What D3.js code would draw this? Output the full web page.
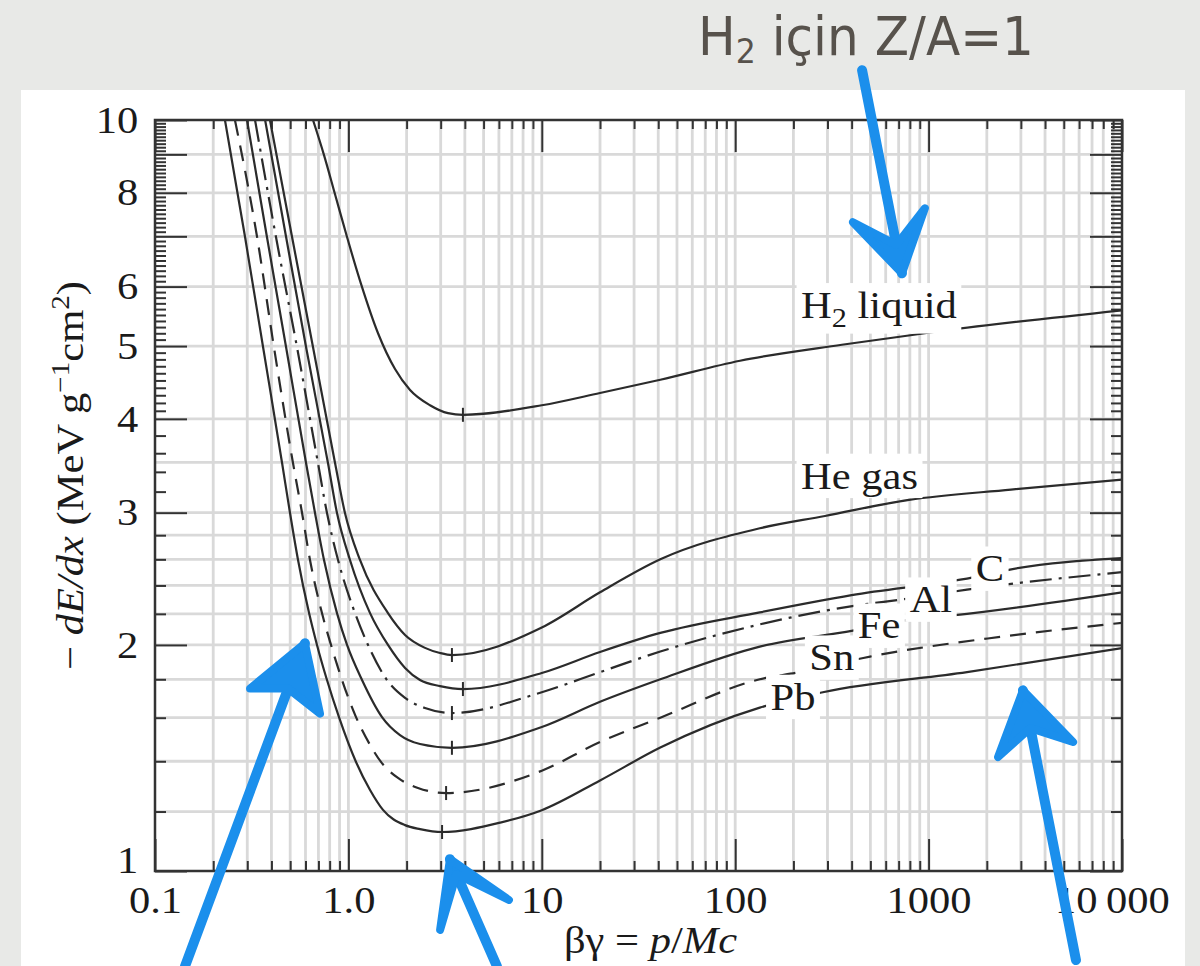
<!DOCTYPE html>
<html>
<head>
<meta charset="utf-8">
<script src="https://cdn.jsdelivr.net/npm/d3@7"></script>
<style>
    body { margin: 0; background: #e8e9e7; }
    svg { display: block; }
</style>
</head>
<body>
<div id="chart"></div>
<script>
// [βγ, -dE/dx] pairs
const h2Liquid = [[0.656, 10], [0.748, 8.98], [0.852, 7.97], [0.983, 6.99], [1.162, 6.05], [1.423, 5.20], [1.742, 4.66], [2.083, 4.37], [2.642, 4.17], [3.273, 4.07], [3.914, 4.05], [10, 4.17], [20, 4.33], [41, 4.51], [106, 4.78], [356, 5.02], [1186, 5.24], [10000, 5.58]]
const heGas = [[0.393, 10], [0.511, 6.99], [0.656, 4.986], [0.853, 3.494], [0.960, 2.997], [1.148, 2.595], [1.602, 2.205], [1.963, 2.062], [2.489, 1.982], [2.977, 1.951], [3.434, 1.939], [10, 2.11], [20, 2.35], [41, 2.60], [134, 2.86], [291, 2.97], [792, 3.12], [2667, 3.22], [10000, 3.32]]
const carbon = [[0.371, 10], [0.476, 6.99], [0.604, 4.986], [0.784, 3.494], [0.873, 2.997], [1.019, 2.595], [1.294, 2.205], [1.602, 2.0], [1.963, 1.864], [2.346, 1.796], [2.977, 1.763], [3.914, 1.747], [10, 1.835], [20, 1.957], [41, 2.075], [134, 2.21], [400, 2.33], [1698, 2.46], [2636, 2.52], [10000, 2.61]]
const aluminium = [[0.329, 10], [0.422, 6.99], [0.542, 4.986], [0.696, 3.494], [0.775, 2.997], [0.884, 2.595], [1.082, 2.205], [1.263, 2.0], [1.583, 1.796], [1.963, 1.700], [2.489, 1.648], [3.434, 1.623], [10, 1.73], [20, 1.84], [41, 1.96], [134, 2.13], [436, 2.26], [738, 2.30], [1580, 2.37], [10000, 2.50]]
const iron = [[0.299, 10], [0.379, 6.99], [0.476, 4.986], [0.604, 3.494], [0.672, 2.997], [0.748, 2.595], [0.873, 2.205], [0.984, 2.0], [1.176, 1.796], [1.492, 1.603], [1.848, 1.517], [2.346, 1.476], [3.434, 1.459], [10, 1.555], [20, 1.68], [41, 1.80], [134, 1.99], [406, 2.09], [782, 2.16], [1337, 2.19], [10000, 2.35]]
const tin = [[0.259, 10], [0.337, 6.99], [0.412, 4.986], [0.517, 3.494], [0.576, 2.997], [0.633, 2.595], [0.730, 2.205], [0.813, 2.0], [0.927, 1.796], [1.095, 1.603], [1.294, 1.472], [1.474, 1.397], [1.805, 1.330], [2.290, 1.290], [3.197, 1.270], [10, 1.36], [20, 1.485], [41, 1.60], [134, 1.80], [216, 1.84], [498, 1.93], [2340, 2.05], [10000, 2.14]]
const lead = [[0.230, 10], [0.292, 6.99], [0.362, 4.986], [0.454, 3.494], [0.499, 2.997], [0.549, 2.595], [0.626, 2.205], [0.688, 2.0], [0.775, 1.796], [0.894, 1.603], [1.095, 1.397], [1.294, 1.282], [1.510, 1.206], [1.963, 1.151], [2.346, 1.137], [3.049, 1.127], [6.1, 1.16], [10, 1.205], [20, 1.32], [41, 1.46], [134, 1.65], [284, 1.73], [1580, 1.84], [10000, 1.98]]

// minimum-ionization markers, same order as the curves
const minima = [[3.91, 4.05], [3.43, 1.939], [3.91, 1.747], [3.43, 1.623], [3.43, 1.459], [3.2, 1.27], [3.05, 1.127]]

const curveDashes = ["none", "none", "none", "22,7,3,7", "none", "16,10", "none"]

const labelNames = ["H2 liquid", "He gas", "C", "Al", "Fe", "Sn", "Pb"]
const labelBg = [219, 219, 2075, 1028, 555, 316, 199]
const labelDedx = [5.45, 3.23, 2.43, 2.21, 2.04, 1.85, 1.64]
const labelAnchor = ["start", "start", "middle", "middle", "middle", "middle", "middle"]

const xLabelValues = [0.1, 1, 10, 100, 1000, 10000]
const xLabels = ["0.1", "1.0", "10", "100", "1000", "10\u2009000"]
const yLabelValues = [1, 2, 3, 4, 5, 6, 8, 10]
const yGridValues = [1.2, 1.4, 1.6, 1.8, 2, 2.2, 2.4, 2.6, 2.8, 3, 3.5, 4, 5, 6, 7, 8, 9]

// hand-drawn blue arrows (tail, tip, barbs) in data units
const arrowTails = [[453, 11.65], [0.143, 0.747], [5.86, 0.747], [5780, 0.761]]
const arrowTips = [[728, 6.25], [0.596, 2.01], [3.35, 1.037], [3076, 1.74]]
const arrowLeftBarbs = [[406, 7.31], [0.31, 1.75], [2.98, 0.835], [2285, 1.418]]
const arrowRightBarbs = [[957, 7.63], [0.713, 1.62], [6.76, 0.915], [5585, 1.485]]

const margin = { top: 120, right: 78, bottom: 95, left: 155 },
    width = 1200 - margin.left - margin.right,
    height = 966 - margin.top - margin.bottom;

const serif = "Liberation Serif, Times New Roman, serif"

const root = d3.select("#chart")
    .append("svg")
    .attr("width", 1200)
    .attr("height", 966)

root.append("rect")
    .attr("width", 1200)
    .attr("height", 966)
    .attr("fill", "#e8e9e7")

root.append("rect")
    .attr("x", 21)
    .attr("y", 90)
    .attr("width", 1164)
    .attr("height", 876)
    .attr("fill", "#ffffff")

const svg = root.append("g")
    .attr("transform", `translate(${margin.left},${margin.top})`);

let x = d3.scaleLog()
    .domain([0.1, 10000])
    .range([0, width]);

let y = d3.scaleLog()
    .domain([1, 10])
    .range([height, 0]);

function isDecade(d) {
    return Math.abs(Math.log10(d) - Math.round(Math.log10(d))) < 1e-9
}

// grid
svg.append("g")
    .selectAll("line")
    .data(x.ticks().filter(function (d) { return d > 0.1 && d < 10000 }))
    .enter().append("line")
    .attr("x1", function (d) { return x(d) })
    .attr("x2", function (d) { return x(d) })
    .attr("y1", 0)
    .attr("y2", height)
    .attr("stroke", "#d9d9d9")
    .attr("stroke-width", 2.8)

svg.append("g")
    .selectAll("line")
    .data(yGridValues)
    .enter().append("line")
    .attr("x1", 0)
    .attr("x2", width)
    .attr("y1", function (d) { return y(d) })
    .attr("y2", function (d) { return y(d) })
    .attr("stroke", "#d9d9d9")
    .attr("stroke-width", 2.8)

function styleAxis(g) {
    g.select(".domain").remove()
    g.selectAll(".tick line")
        .attr("stroke", "#333")
        .attr("stroke-width", 2)
    g.selectAll("text")
        .attr("font-family", serif)
        .attr("font-size", 38)
        .attr("fill", "#1a1a1a")
        .attr("transform", "scale(1.12,1)")
}

const xMinor = x.ticks().filter(function (d) { return !isDecade(d) })
const yMinor = d3.range(12, 40, 2).filter(function (d) { return d % 10 !== 0 })
    .concat(d3.range(41, 100).filter(function (d) { return d % 10 !== 0 }))
    .map(function (d) { return d / 10 })

// bottom
let xTicks = svg.append("g")
    .attr("transform", "translate(0," + height + ")")
    .call(d3.axisBottom(x)
        .tickValues(xLabelValues)
        .tickSizeInner(-32)
        .tickSizeOuter(0)
        .tickPadding(15)
        .tickFormat(function (d, i) { return xLabels[i] }))
styleAxis(xTicks)
xTicks.selectAll("text").filter(function (d) { return d === 10000 }).attr("x", -9)

styleAxis(svg.append("g")
    .attr("transform", "translate(0," + height + ")")
    .call(d3.axisBottom(x).tickValues(xMinor).tickSizeInner(-10).tickSizeOuter(0).tickFormat("")))

// top
styleAxis(svg.append("g")
    .call(d3.axisTop(x).tickValues(xLabelValues).tickSizeInner(-32).tickSizeOuter(0).tickFormat("")))
styleAxis(svg.append("g")
    .call(d3.axisTop(x).tickValues(xMinor).tickSizeInner(-9).tickSizeOuter(0).tickFormat("")))

// left
let yTicks = svg.append("g")
    .call(d3.axisLeft(y)
        .tickValues(y.ticks())
        .tickSizeInner(-32)
        .tickSizeOuter(0)
        .tickPadding(15)
        .tickFormat(function (d) { return yLabelValues.includes(d) ? d : "" }))
styleAxis(yTicks)
yTicks.selectAll("text").filter(function (d) { return d === 1 }).attr("y", -11)
styleAxis(svg.append("g")
    .call(d3.axisLeft(y).tickValues(yMinor).tickSizeInner(-11).tickSizeOuter(0).tickFormat("")))

// right
styleAxis(svg.append("g")
    .attr("transform", "translate(" + width + ",0)")
    .call(d3.axisRight(y).tickValues(y.ticks()).tickSizeInner(-32).tickSizeOuter(0).tickFormat("")))
styleAxis(svg.append("g")
    .attr("transform", "translate(" + width + ",0)")
    .call(d3.axisRight(y).tickValues(yMinor).tickSizeInner(-11).tickSizeOuter(0).tickFormat("")))

// curves
svg.append("clipPath")
    .attr("id", "plotClip")
    .append("rect")
    .attr("width", width)
    .attr("height", height)

const curves = [h2Liquid, heGas, carbon, aluminium, iron, tin, lead]

let line = d3.line()
    .x(function (d) { return x(d[0]) })
    .y(function (d) { return y(d[1]) })
    .curve(d3.curveMonotoneX)

svg.append("g")
    .attr("clip-path", "url(#plotClip)")
    .selectAll("path")
    .data(curves)
    .enter().append("path")
    .attr("fill", "none")
    .attr("stroke", "#2b2b2b")
    .attr("stroke-width", 2.2)
    .attr("stroke-dasharray", function (d, i) { return curveDashes[i] })
    .attr("d", line)

svg.append("g")
    .selectAll("line")
    .data(minima)
    .enter().append("line")
    .attr("x1", function (d) { return x(d[0]) })
    .attr("x2", function (d) { return x(d[0]) })
    .attr("y1", function (d) { return y(d[1]) - 7 })
    .attr("y2", function (d) { return y(d[1]) + 7 })
    .attr("stroke", "#2b2b2b")
    .attr("stroke-width", 2)

// curve labels on white boxes
labelNames.forEach(function (name, i) {
    let g = svg.append("g")
        .attr("transform", `translate(${x(labelBg[i])},${y(labelDedx[i])}) scale(1.12,1)`)
    let box = g.append("rect").attr("fill", "#ffffff")
    let t = g.append("text")
        .attr("font-family", serif)
        .attr("font-size", 38)
        .attr("fill", "#1a1a1a")
        .attr("text-anchor", labelAnchor[i])
    if (name === "H2 liquid") {
        t.append("tspan").text("H")
        t.append("tspan").attr("font-size", 27).attr("dy", 9).text("2")
        t.append("tspan").attr("dy", -9).text(" liquid")
    } else {
        t.text(name)
    }
    let bb = t.node().getBBox()
    box.attr("x", bb.x - 4)
        .attr("y", bb.y - 1)
        .attr("width", bb.width + 8)
        .attr("height", bb.height + 2)
})

// axis titles
let yTitle = svg.append("text")
    .attr("transform", `translate(${83 - margin.left},${height / 2 - 20}) rotate(-90) scale(1.12,1)`)
    .attr("text-anchor", "middle")
    .attr("font-family", serif)
    .attr("font-size", 38)
    .attr("fill", "#1a1a1a")
yTitle.append("tspan").text("\u2212 ")
yTitle.append("tspan").attr("font-style", "italic").text("dE/dx")
yTitle.append("tspan").text(" (MeV g")
yTitle.append("tspan").attr("font-size", 26).attr("dy", -14).text("\u22121")
yTitle.append("tspan").attr("dy", 14).text("cm")
yTitle.append("tspan").attr("font-size", 26).attr("dy", -14).text("2")
yTitle.append("tspan").attr("dy", 14).text(")")

let xTitle = svg.append("text")
    .attr("transform", `translate(${width / 2 + 12},${height + 82}) scale(1.12,1)`)
    .attr("text-anchor", "middle")
    .attr("font-family", serif)
    .attr("font-size", 38)
    .attr("fill", "#1a1a1a")
xTitle.append("tspan").text("\u03b2\u03b3 = ")
xTitle.append("tspan").attr("font-style", "italic").text("p")
xTitle.append("tspan").text("/")
xTitle.append("tspan").attr("font-style", "italic").text("Mc")

// frame
svg.append("rect")
    .attr("width", width)
    .attr("height", height)
    .attr("fill", "none")
    .attr("stroke", "#333")
    .attr("stroke-width", 2.5)

// slide title
let title = root.append("text")
    .attr("x", 0)
    .attr("y", 0)
    .attr("font-family", "DejaVu Sans, sans-serif")
    .attr("font-size", 54)
    .attr("fill", "#57524c")
title.append("tspan").text("H")
title.append("tspan").attr("font-size", 34).attr("dy", 8).text("2")
title.append("tspan").attr("dy", -8).text(" için Z/A=1")
let tb = title.node().getBBox()
title.attr("transform", `translate(698,55) scale(${336 / tb.width},1)`)

// blue arrows
let arrows = svg.append("g")
arrowTips.forEach(function (tip, i) {
    let tail = arrowTails[i], lb = arrowLeftBarbs[i], rb = arrowRightBarbs[i]
    let tx = x(tip[0]), ty = y(tip[1])
    let sx = x(tail[0]), sy = y(tail[1])
    arrows.append("path")
        .attr("d", d3.line()([[sx, sy], [tx, ty]]))
        .attr("stroke", "#1b8fec")
        .attr("stroke-width", 10)
        .attr("stroke-linecap", "round")
        .attr("fill", "none")
    let nx = tx + (sx - tx) * 0.14, ny = ty + (sy - ty) * 0.14
    arrows.append("path")
        .attr("d", d3.line()([[x(lb[0]), y(lb[1])], [tx, ty], [x(rb[0]), y(rb[1])], [nx, ny]]) + "Z")
        .attr("fill", "#1b8fec")
        .attr("stroke", "#1b8fec")
        .attr("stroke-width", 8)
        .attr("stroke-linejoin", "round")
})
</script>
</body>
</html>
